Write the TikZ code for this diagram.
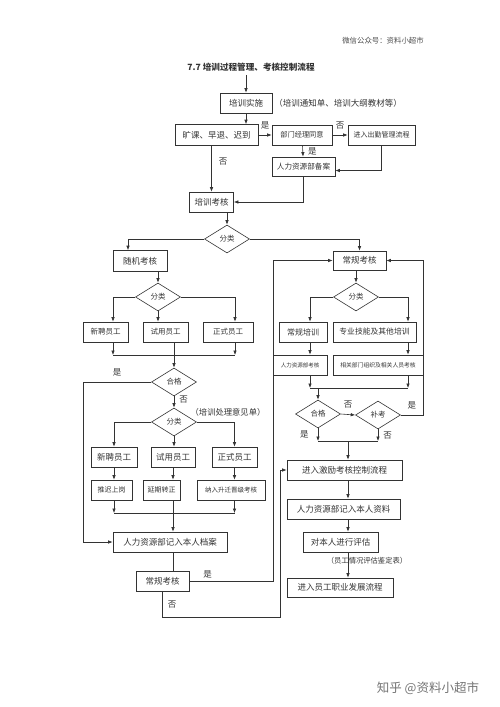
\documentclass[tikz,border=0pt]{standalone}
\usepackage{fontspec}
\setmainfont{Noto Sans CJK SC}
\usetikzlibrary{arrows.meta,positioning,shapes.geometric}

\begin{document}
\begin{tikzpicture}[x=1pt,y=-1pt,>={Latex[length=4.5pt,width=3.5pt]},
    line width=0.6pt,color=black!80,
    box/.style={draw,rectangle,inner sep=0pt,minimum height=20pt,
      font=\fontsize{8.5}{9}\selectfont},
    dia/.style={draw,diamond,inner sep=0pt,minimum width=45pt,
      minimum height=28pt,font=\fontsize{7.5}{8}\selectfont},
    yn/.style={inner sep=1pt,font=\fontsize{8.5}{9}\selectfont},
    note/.style={inner sep=0pt,font=\fontsize{8.5}{9}\selectfont}]
  \useasboundingbox (0,0) rectangle (500,707);

  \node[text=black!70,font=\fontsize{7.4}{8}\selectfont] (wx) at (383,41) {微信公众号：资料小超市};
  \node[font=\fontsize{8.6}{9}\selectfont\bfseries] (title) at (251,67) {7.7 培训过程管理、考核控制流程};

  % 顶部
  \node[box,minimum width=52pt] (ss) at (246,103) {培训实施};
  \node[note,anchor=west] (tz) at (274,103) {（培训通知单、培训大纲教材等）};
  \node[box,minimum width=83pt,minimum height=21pt] (kk) at (216.5,135) {旷课、早退、迟到};
  \node[box,minimum width=60pt,font=\fontsize{7.2}{8}\selectfont] (bm) at (302,135) {部门经理同意};
  \node[box,minimum width=67pt,font=\fontsize{7}{8}\selectfont] (cq) at (381.5,135) {进入出勤管理流程};
  \node[box,minimum width=63pt,minimum height=19pt,font=\fontsize{7.6}{8}\selectfont] (ba) at (303.5,166.5) {人力资源部备案};
  \node[box,minimum width=44pt] (pk) at (211.5,202) {培训考核};
  \node[dia] (fl_1) at (227,239) {分类};

  % 左列
  \node[box,minimum width=54pt,minimum height=21pt] (sj) at (140,261) {随机考核};
  \node[dia] (fl_2) at (158,297) {分类};
  \node[box,minimum width=45pt,font=\fontsize{7.5}{8}\selectfont] (xp_1) at (105.5,332) {新聘员工};
  \node[box,minimum width=45pt,font=\fontsize{7.5}{8}\selectfont] (sy_1) at (165.5,332) {试用员工};
  \node[box,minimum width=50pt,font=\fontsize{7.5}{8}\selectfont] (zs_1) at (228,332) {正式员工};
  \node[dia] (hg_1) at (174,382) {合格};
  \node[dia] (fl_3) at (174,422) {分类};
  \node[note,font=\fontsize{8.3}{9}\selectfont] (yj) at (228,412) {（培训处理意见单）};
  \node[box,minimum width=46pt] (xp_2) at (114,457) {新聘员工};
  \node[box,minimum width=44pt] (sy_2) at (173,457) {试用员工};
  \node[box,minimum width=45pt] (zs_2) at (234.5,457) {正式员工};
  \node[box,minimum width=41pt,font=\fontsize{7}{8}\selectfont] (tc) at (111.5,490) {推迟上岗};
  \node[box,minimum width=37pt,font=\fontsize{7}{8}\selectfont] (yq) at (161.5,490) {延期转正};
  \node[box,minimum width=68pt,font=\fontsize{6.5}{7}\selectfont] (nr) at (231,490) {纳入升迁晋级考核};
  \node[box,minimum width=114pt] (da) at (170,542) {人力资源部记入本人档案};
  \node[box,minimum width=53pt] (cg_2) at (162.5,581) {常规考核};

  % 右列
  \node[box,minimum width=53pt,minimum height=19pt] (cg_1) at (359.5,260.5) {常规考核};
  \node[dia] (fl_4) at (356,297) {分类};
  \node[box,minimum width=48pt,font=\fontsize{8}{9}\selectfont] (cp) at (303,332) {常规培训};
  \node[box,minimum width=83pt,font=\fontsize{7.8}{8}\selectfont] (zy) at (374.5,332) {专业技能及其他培训};
  \node[box,minimum width=54pt,font=\fontsize{5.5}{6}\selectfont] (hk) at (300,365) {人力资源部考核};
  \node[box,minimum width=90pt,font=\fontsize{5.8}{6}\selectfont] (xg) at (378,365) {相关部门组织及相关人员考核};
  \node[dia] (hg_2) at (318,414) {合格};
  \node[dia] (bk) at (378,415) {补考};
  \node[box,minimum width=115pt] (jl) at (344.5,470) {进入激励考核控制流程};
  \node[box,minimum width=113pt] (rz) at (343.5,509) {人力资源部记入本人资料};
  \node[box,minimum width=75pt] (db) at (340.5,542) {对本人进行评估};
  \node[note,font=\fontsize{7.3}{8}\selectfont] (jd) at (367,561) {（员工情况评估鉴定表）};
  \node[box,minimum width=106pt,minimum height=19pt] (fz) at (340,587.5) {进入员工职业发展流程};

  \node[text=black!55,font=\fontsize{12.5}{13}\selectfont] (zh) at (428,688) {知乎 @资料小超市};

  % 折线用的坐标
  \coordinate (cA) at (113,0);
  \coordinate (cC) at (235,0);
  \coordinate (cL) at (83,0);
  \coordinate (cM) at (273,0);
  \coordinate (cP) at (128,0);
  \coordinate (cD) at (310,0);
  \coordinate (cE) at (408,0);
  \coordinate (cR) at (423,0);
  \coordinate (j_1) at (174,355);
  \coordinate (j_2) at (173,513);
  \coordinate (j_3) at (318,388);
  \coordinate (j_4) at (348,441);
  \coordinate (jb) at (280,617);

  % 顶部连线
  \draw[->] (title.south -| ss.north) -- (ss);
  \draw[->] (ss.south) -- (ss.south |- kk.north);
  \path[->]
  (kk) edge node[yn,above=5pt] {是} (bm)
  (bm) edge node[yn,above=5pt] {否} (cq)
       edge node[yn,right=4pt] {是} (ba);
  \draw[->] (cq.south) |- ([yshift=-4pt]ba.east);
  \draw[->] (ba.south) |- (pk.east);
  \draw[->] (kk.south -| pk.north) -- node[yn,right=6pt,pos=0.35] {否} (pk.north);
  \draw[->] (pk.south -| fl_1.north) -- (fl_1.north);
  \draw[->] (fl_1.west) -| (cP |- sj.north);
  \draw[->] (fl_1.east) -| (cg_1.north);

  % 左列连线
  \draw[->] (sj.south -| fl_2.north) -- (fl_2.north);
  \draw[->] (fl_2.west) -| (cA |- xp_1.north);
  \draw[->] (fl_2.south) -- (fl_2.south |- sy_1.north);
  \draw[->] (fl_2.east) -| (cC |- zs_1.north);
  \draw[->] (cA |- xp_1.south) -- (cA |- j_1);
  \draw[->] (cC |- zs_1.south) -- (cC |- j_1);
  \draw (cA |- j_1) -- (cC |- j_1);
  \draw[->] (hg_1.north |- sy_1.south) -- (hg_1.north);
  \draw[->] (hg_1.west) -| node[yn,above=5pt,pos=0.25] {是} (cL |- da.west) -- (da.west);
  \draw[->] (hg_1.south) -- node[yn,right=4pt,pos=0.3] {否} (fl_3.north);
  \draw[->] (fl_3.west) -| (xp_2.north);
  \draw[->] (fl_3.south) -- (fl_3.south |- sy_2.north);
  \draw[->] (fl_3.east) -| (zs_2.north);
  \draw[->] (xp_2.south) -- (xp_2.south |- tc.north);
  \draw[->] (sy_2.south) -- (sy_2.south |- yq.north);
  \draw[->] (zs_2.south) -- (zs_2.south |- nr.north);
  \draw[->] (tc.south -| xp_2) -- (xp_2 |- j_2);
  \draw[->] (nr.south -| zs_2) -- (zs_2 |- j_2);
  \draw (xp_2 |- j_2) -- (zs_2 |- j_2);
  \draw[->] (yq.south -| sy_2) -- (sy_2 |- da.north);
  \draw (da.south -| sy_2) -- (sy_2 |- cg_2.north);
  \draw[->] (cg_2.east) -- node[yn,above=2pt,pos=0.22] {是} (cM |- cg_2.east)
    -- (cM |- cg_1.west) -- (cg_1.west);
  \draw[->] (cg_2.south) -- node[yn,right=4pt] {否} (cg_2.south |- jb)
    -- (jb) -- (jb |- jl.west) -- (jl.west);

  % 右列连线
  \draw[->] (cg_1.south -| fl_4.north) -- (fl_4.north);
  \draw[->] (fl_4.west) -| (cD |- cp.north);
  \draw[->] (fl_4.east) -| (cE |- zy.north);
  \draw[->] (cD |- cp.south) -- (cD |- hk.north);
  \draw[->] (cE |- zy.south) -- (cE |- xg.north);
  \draw[->] (cD |- hk.south) -- (cD |- j_3);
  \draw[->] (cE |- xg.south) -- (cE |- j_3);
  \draw (cD |- j_3) -- (cE |- j_3);
  \draw[->] (j_3) -- (hg_2.north);
  \draw[->] (hg_2.east) -- node[yn,above=5pt] {否} (bk.west);
  \draw[->] (bk.east) -- node[yn,above=5pt] {是} (cR |- bk.east)
    -- (cR |- cg_1.east) -- (cg_1.east);
  \draw[->] (hg_2.south) -- node[yn,left=8pt] {是} (hg_2.south |- j_4);
  \draw[->] (bk.south) -- node[yn,right=4pt] {否} (bk.south |- j_4);
  \draw (hg_2.south |- j_4) -- (bk.south |- j_4);
  \draw[->] (j_4) -- (j_4 |- jl.north);
  \draw[->] (jl.south -| j_4) -- (j_4 |- rz.north);
  \draw[->] (rz.south -| j_4) -- (j_4 |- db.north);
  \draw[->] (db.south -| j_4) -- (j_4 |- fz.north);
\end{tikzpicture}
\end{document}
